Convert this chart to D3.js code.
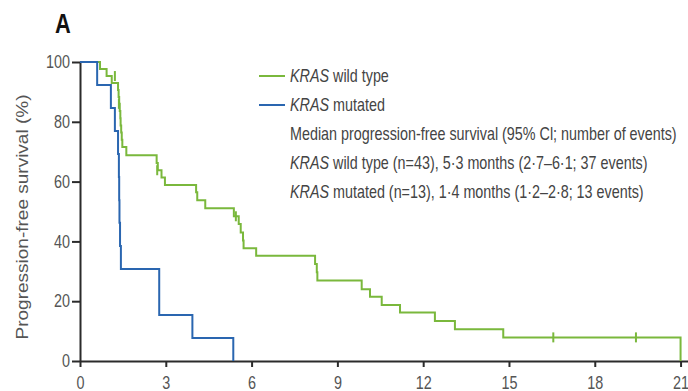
<!DOCTYPE html>
<meta charset="utf-8">
<style>
  body { margin: 0; background: #fff; }
  svg text { font-family: "Liberation Sans", Arial, sans-serif; }
  .axis path, .axis line { stroke: #2b2b2b; stroke-width: 2; }
  .axis text { fill: #555; font-size: 18px; }
  .km { fill: none; stroke-width: 2; }
  .legend text { fill: #444; font-size: 18px; }
</style>
<body>
<script src="https://d3js.org/d3.v7.min.js"></script>
<script>

// KRAS wild type: event times (months) and survival (%) after each drop
var wildTimes = [0.70, 0.93, 1.11, 1.33, 1.35, 1.37, 1.39, 1.41, 1.42, 1.44, 1.46, 1.48, 1.62,
                 2.68, 2.72, 2.85, 2.97, 4.06, 4.10, 4.38, 5.38, 5.55, 5.62, 5.70, 5.72, 6.16,
                 8.22, 8.28, 8.30, 9.85, 10.14, 10.55, 11.19, 12.41, 13.11, 14.80, 21.0];
var wildSurv  = [97.7, 95.3, 93.0, 90.6, 88.3, 86.0, 83.6, 81.2, 78.8, 76.4, 74.0, 71.6, 68.8,
                 66.2, 63.8, 61.4, 58.9, 56.4, 53.8, 51.1, 48.4, 45.8, 43.0, 40.3, 37.7, 35.2,
                 32.4, 29.7, 26.9, 24.0, 21.5, 18.7, 16.2, 13.4, 10.6, 7.9, 0];
var wildCensorTimes = [1.22, 1.36, 2.70, 5.45, 16.55, 19.44];
var wildCensorSurv  = [95.3, 86.0, 63.8, 48.4, 7.9, 7.9];

// KRAS mutated
var mutTimes = [0.60, 1.08, 1.22, 1.33, 1.36, 1.37, 1.38, 1.40, 1.43, 2.77, 3.93, 5.36];
var mutSurv  = [92.3, 84.6, 76.9, 69.2, 61.5, 53.8, 46.2, 38.5, 30.8, 15.4, 7.7, 0];

var xTicks = [0, 3, 6, 9, 12, 15, 18, 21];
var yTicks = [0, 20, 40, 60, 80, 100];

var legendRows = [
  ["KRAS", " wild type"],
  ["KRAS", " mutated"],
  ["", "Median progression-free survival (95% Cl; number of events)"],
  ["KRAS", " wild type (n=43), 5·3 months (2·7–6·1; 37 events)"],
  ["KRAS", " mutated (n=13), 1·4 months (1·2–2·8; 13 events)"]
];

var green = "#7ab83c", blue = "#2a66b0";
var squeeze = 0.8; // condensed look of the original typeface

var width = 688, height = 391;
var svg = d3.select("body").append("svg")
    .attr("width", width)
    .attr("height", height);

var x = d3.scaleLinear().domain([0, 21.26]).range([80, 688]);
var y = d3.scaleLinear().domain([0, 100]).range([361, 62]);

// axes
svg.append("g")
    .attr("class", "axis")
    .attr("transform", "translate(0," + y(0) + ")")
    .call(d3.axisBottom(x).tickValues(xTicks).tickSize(6).tickSizeOuter(0).tickPadding(9))
  .selectAll("text")
    .attr("transform", "scale(" + squeeze + ",1)");

svg.append("g")
    .attr("class", "axis")
    .attr("transform", "translate(" + x(0) + ",0)")
    .call(d3.axisLeft(y).tickValues(yTicks).tickSize(8).tickSizeOuter(0).tickPadding(4.5))
  .selectAll("text")
    .attr("transform", "scale(" + squeeze + ",1)");

// curves
function steps(times, surv) {
  var pts = [[0, 100]];
  times.forEach(function(t, i) { pts.push([t, surv[i]]); });
  return pts;
}
var line = d3.line()
    .x(function(d) { return x(d[0]); })
    .y(function(d) { return y(d[1]); })
    .curve(d3.curveStepAfter);

svg.append("path")
    .datum(steps(wildTimes, wildSurv))
    .attr("class", "km")
    .attr("stroke", green)
    .attr("d", line);

svg.append("path")
    .datum(steps(mutTimes, mutSurv))
    .attr("class", "km")
    .attr("stroke", blue)
    .attr("d", line);

// censor marks
svg.selectAll(".censor")
    .data(wildCensorTimes)
  .enter().append("line")
    .attr("class", "censor")
    .attr("x1", function(d) { return x(d); })
    .attr("x2", function(d) { return x(d); })
    .attr("y1", function(d, i) { return y(wildCensorSurv[i]) - 5; })
    .attr("y2", function(d, i) { return y(wildCensorSurv[i]) + 5; })
    .attr("stroke", green)
    .attr("stroke-width", 2);

// y axis title
svg.append("text")
    .attr("transform", "translate(28,217) rotate(-90)")
    .attr("text-anchor", "middle")
    .attr("textLength", 245)
    .attr("lengthAdjust", "spacingAndGlyphs")
    .style("font-size", "17px")
    .style("fill", "#555")
    .text("Progression-free survival (%)");

// panel letter
svg.append("text")
    .attr("transform", "translate(63,33) scale(0.78,1)")
    .attr("text-anchor", "middle")
    .style("font-size", "28px")
    .style("font-weight", "bold")
    .style("fill", "#111")
    .text("A");

// legend
var legend = svg.append("g").attr("class", "legend");
var rowY = [76, 105, 134, 163, 192];
legend.selectAll("line")
    .data([green, blue])
  .enter().append("line")
    .attr("x1", 259)
    .attr("x2", 285)
    .attr("y1", function(d, i) { return rowY[i]; })
    .attr("y2", function(d, i) { return rowY[i]; })
    .attr("stroke", function(d) { return d; })
    .attr("stroke-width", 2);

var rows = legend.selectAll("text")
    .data(legendRows)
  .enter().append("text")
    .attr("x", 0)
    .attr("y", 0);
rows.append("tspan")
    .style("font-style", "italic")
    .text(function(d) { return d[0]; });
rows.append("tspan")
    .text(function(d) { return d[1]; });

// squeeze the legend so the long row spans the same width as in the original
var longest = rows.nodes()[2].getComputedTextLength();
var sx = 387 / longest;
rows.attr("transform", function(d, i) {
  return "translate(290," + (rowY[i] + 6) + ") scale(" + sx + ",1)";
});

</script>
</body>
